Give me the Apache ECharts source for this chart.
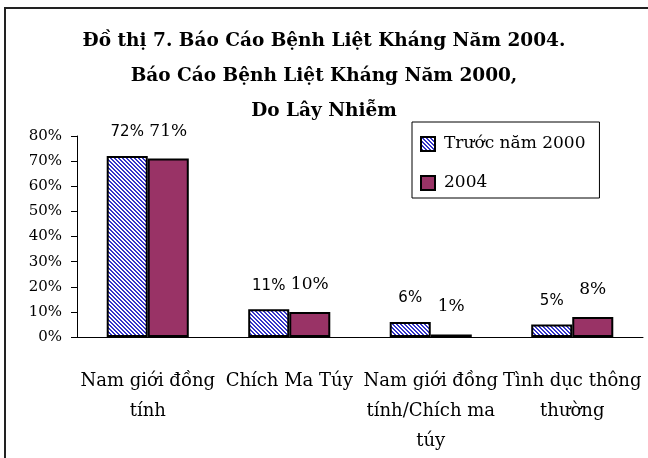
<!DOCTYPE html>
<html>
<head>
<meta charset="utf-8">
<script src="https://cdn.jsdelivr.net/npm/echarts@6/dist/echarts.min.js"></script>
<style>
  html, body { margin: 0; padding: 0; background: #fff; }
  #chart { width: 648px; height: 458px; }
</style>
</head>
<body>
<div id="chart"></div>
<script>
// du lieu
const categories = ['Nam giới đồng\ntính', 'Chích Ma Túy', 'Nam giới đồng\ntính/Chích ma\ntúy', 'Tình dục thông\nthường']
const seriesNames = ['Trước năm 2000', '2004']
const before2000 = [72, 11, 6, 5]
const year2004 = [71, 10, 1, 8]
const yTicks = [0, 80, 10] // min, max, interval

// hatch pattern cho cot "Truoc nam 2000"
function makeHatch() {
  const c = document.createElement('canvas')
  c.width = 4
  c.height = 4
  const ctx = c.getContext('2d')
  ctx.fillStyle = '#ffffff'
  ctx.fillRect(0, 0, 4, 4)
  ctx.fillStyle = '#3535c8'
  for (let y = 0; y < 4; y++) {
    for (let x = 0; x < 4; x++) {
      if (((x - y + 8) % 4) < 2) ctx.fillRect(x, y, 1, 1)
    }
  }
  return c
}

const serif = 'DejaVu Serif'
const chart = echarts.init(document.getElementById('chart'))
chart.setOption({
  animation: false,
  title: {
    text: 'Đồ thị 7. Báo Cáo Bệnh Liệt Kháng Năm 2004.\nBáo Cáo Bệnh Liệt Kháng Năm 2000,\nDo Lây Nhiễm',
    left: 'center',
    top: 19,
    textStyle: {
      fontFamily: serif,
      fontWeight: 'bold',
      fontSize: 18.5,
      lineHeight: 35,
      color: '#000'
    }
  },
  graphic: [{
    type: 'rect',
    shape: { x: 5, y: 8, width: 700, height: 500 },
    style: { fill: 'none', stroke: '#222', lineWidth: 2 },
    z: 100
  }],
  legend: {
    orient: 'vertical',
    left: 412,
    top: 122,
    icon: 'rect',
    itemWidth: 14,
    itemHeight: 14,
    itemGap: 19,
    padding: [12, 14, 5, 8],
    borderColor: '#000',
    borderWidth: 1,
    textStyle: {
      fontFamily: serif,
      fontSize: 17,
      lineHeight: 20,
      color: '#000',
      padding: [0, 0, 0, 4]
    },
    data: seriesNames
  },
  grid: {
    left: 77,
    right: 5,
    top: 136,
    bottom: 121
  },
  xAxis: {
    type: 'category',
    data: categories,
    axisLine: { lineStyle: { color: '#000', width: 1 } },
    axisTick: { length: 6, lineStyle: { color: '#000' } },
    axisLabel: {
      interval: 0,
      margin: 29,
      fontFamily: serif,
      fontSize: 18,
      lineHeight: 30,
      color: '#000'
    }
  },
  yAxis: {
    type: 'value',
    min: yTicks[0],
    max: yTicks[1],
    interval: yTicks[2],
    splitLine: { show: false },
    axisLine: { show: true, lineStyle: { color: '#000', width: 1 } },
    axisTick: { show: true, length: 6, lineStyle: { color: '#000' } },
    axisLabel: {
      formatter: '{value}%',
      margin: 15,
      fontFamily: serif,
      fontSize: 15,
      color: '#000'
    }
  },
  series: [
    {
      name: seriesNames[0],
      type: 'bar',
      data: before2000,
      barGap: '0%',
      barCategoryGap: '42%',
      itemStyle: {
        color: { image: makeHatch(), repeat: 'repeat' },
        borderColor: '#000',
        borderWidth: 2
      },
      label: {
        show: true,
        position: 'top',
        distance: 16,
        formatter: '{c}%',
        fontFamily: 'DejaVu Sans',
        fontSize: 15,
        color: '#000'
      }
    },
    {
      name: seriesNames[1],
      type: 'bar',
      data: year2004,
      barGap: '0%',
      barCategoryGap: '42%',
      itemStyle: {
        color: '#993366',
        borderColor: '#000',
        borderWidth: 2
      },
      label: {
        show: true,
        position: 'top',
        distance: 19,
        formatter: '{c}%',
        fontFamily: serif,
        fontSize: 17,
        color: '#000'
      }
    }
  ]
})
</script>
</body>
</html>
